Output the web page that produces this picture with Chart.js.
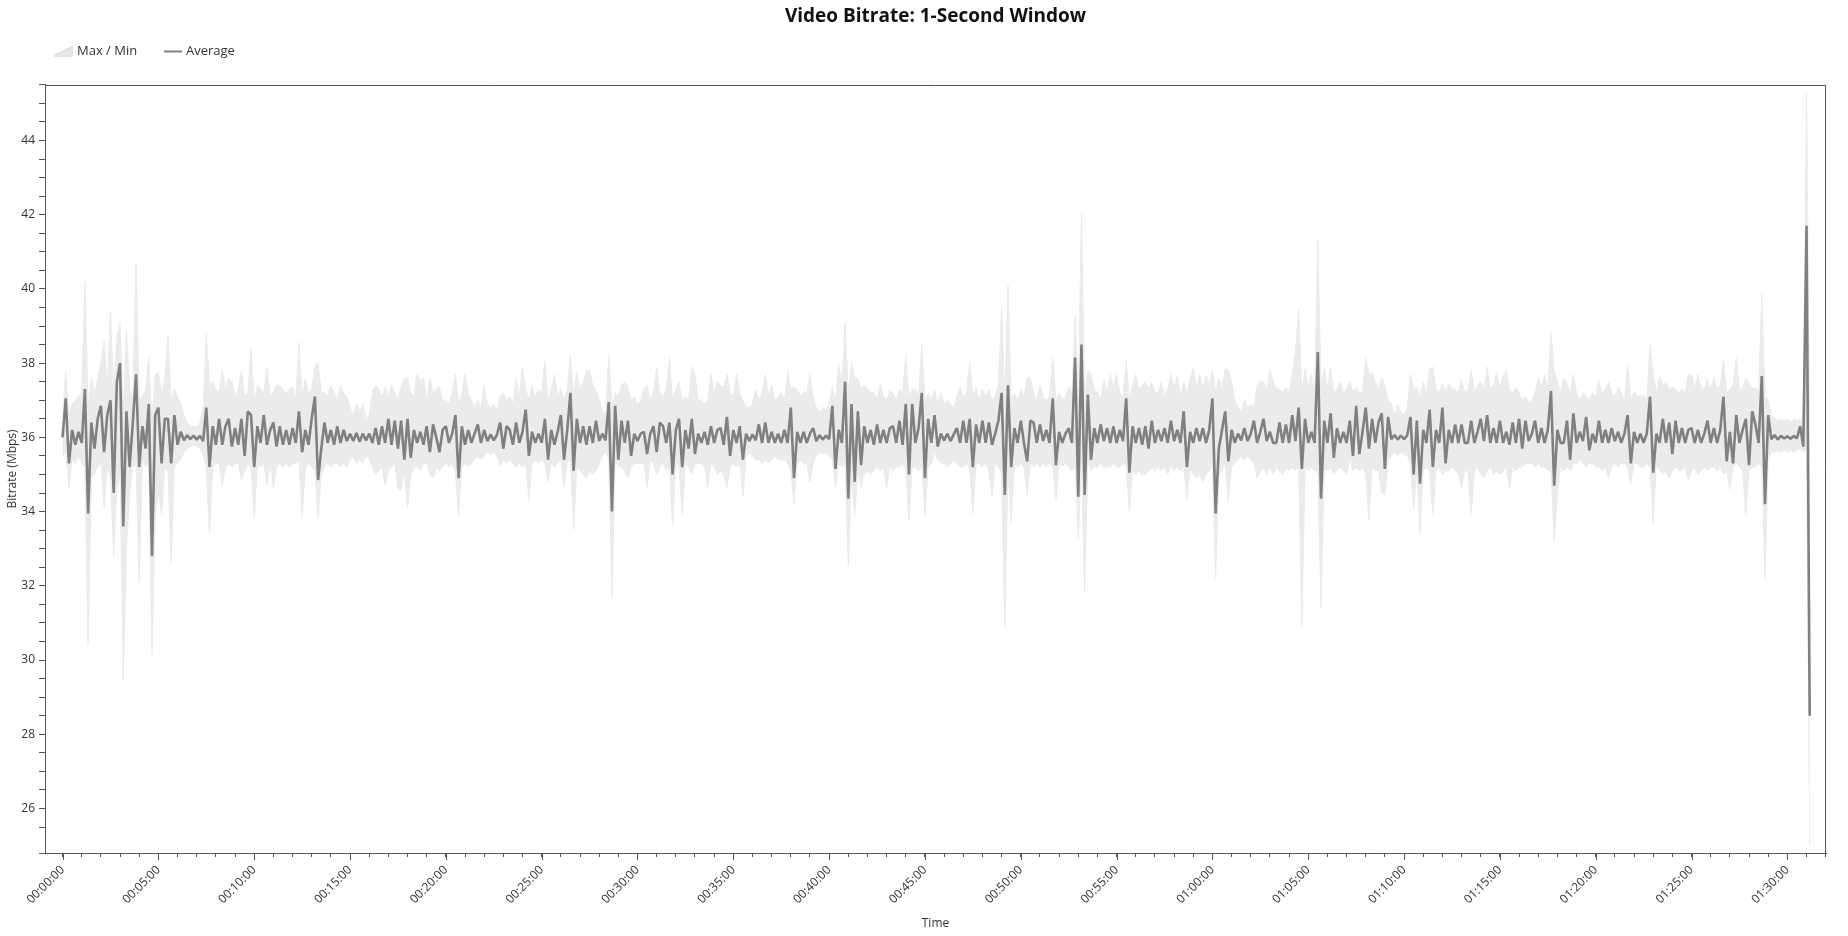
<!DOCTYPE html>
<html>
<head>
<meta charset="utf-8">
<script src="https://cdn.jsdelivr.net/npm/chart.js@4.4.1/dist/chart.umd.min.js"></script>
<style>
html,body{margin:0;padding:0;background:#fff;}
#wrap{width:1848px;height:936px;position:relative;}
</style>
</head>
<body>
<div id="wrap"><canvas id="c" width="1848" height="936"></canvas></div>
<script>
// ---- data (one sample every 10 seconds) ----
const STEP_SECONDS = 10;

const avgMbps = [
36.0,37.05,35.3,36.2,35.8,36.15,35.85,37.3,33.95,36.4,
35.7,36.5,36.85,35.6,36.6,37.0,34.5,37.5,38.0,33.6,
36.7,35.2,36.4,37.7,35.2,36.3,35.7,36.9,32.8,36.6,
36.8,35.3,36.5,36.5,35.3,36.6,35.8,36.15,35.92,36.06,
35.95,36.05,35.94,36.04,35.9,36.8,35.2,36.3,35.8,36.5,
35.8,36.3,36.5,35.75,36.25,35.8,36.5,35.5,36.7,36.6,
35.2,36.3,35.85,36.6,35.8,36.2,36.4,35.75,36.3,35.8,
36.2,35.8,36.25,35.85,36.7,35.6,36.2,35.8,36.5,37.1,
34.85,35.7,36.4,35.85,36.2,35.8,36.3,35.85,36.2,35.9,
36.1,35.9,36.12,35.88,36.1,35.92,36.1,35.85,36.25,35.8,
36.3,35.85,36.5,35.8,36.45,35.7,36.45,35.4,36.5,35.45,
36.2,35.85,36.15,35.8,36.3,35.6,36.35,36.0,35.6,36.2,
36.3,35.85,36.1,36.6,34.9,36.3,35.8,36.2,35.85,36.1,
36.35,35.85,36.2,35.9,36.08,35.92,36.07,36.4,35.7,36.3,
36.2,35.8,36.4,35.85,36.15,36.75,35.5,36.15,35.85,36.1,
35.85,36.5,35.4,36.2,35.8,36.15,36.6,35.4,36.2,37.2,
35.1,36.5,35.85,36.3,35.8,36.3,35.85,36.45,35.9,36.1,
35.92,36.95,34.0,36.85,35.4,36.45,35.85,36.45,35.5,36.1,
35.9,36.1,36.15,35.55,36.1,36.3,35.6,36.4,36.3,35.85,
36.4,35.0,36.2,36.5,35.2,36.2,35.7,36.5,35.55,36.1,
35.85,36.15,35.8,36.3,35.85,36.2,36.25,35.8,36.55,35.5,
36.2,35.85,36.3,35.4,36.1,35.9,36.08,35.92,36.35,35.85,
36.4,35.85,36.15,35.85,36.1,35.85,36.2,35.85,36.8,34.9,
36.15,35.85,36.15,35.85,36.1,36.25,35.9,36.06,35.94,36.05,
35.95,36.85,35.15,36.2,35.85,37.5,34.35,36.9,34.8,36.7,
35.25,36.3,35.85,36.2,35.8,36.35,35.85,36.2,35.85,36.25,
36.3,35.85,36.45,35.8,36.9,35.0,36.9,35.85,36.25,37.2,
34.9,36.5,35.85,36.6,35.75,36.1,35.92,36.1,35.9,36.08,
36.25,35.85,36.45,35.85,36.5,35.2,36.35,35.85,36.45,35.85,
36.4,35.8,36.1,36.45,37.2,34.45,37.4,35.2,36.25,35.85,
36.45,35.85,35.35,36.45,36.4,35.85,36.35,35.9,36.2,35.85,
37.05,35.25,36.15,35.85,36.1,36.25,35.85,38.15,34.4,38.5,
34.45,37.15,35.4,36.25,35.85,36.35,35.9,36.25,35.85,36.3,
35.85,36.2,35.9,37.05,35.05,36.3,35.85,36.25,35.8,36.3,
35.7,36.45,35.85,36.2,35.9,36.25,35.85,36.45,35.9,36.2,
35.85,36.7,35.2,36.15,35.85,36.25,35.9,36.25,35.85,36.2,
37.05,33.95,35.7,36.2,36.7,35.35,36.2,35.85,36.1,35.92,
36.25,35.9,36.1,36.45,35.85,36.15,36.5,35.9,36.15,35.85,
35.85,36.4,35.85,36.35,35.85,36.6,35.9,36.8,35.15,36.5,
35.85,36.15,35.85,38.3,34.35,36.45,35.85,36.65,35.45,36.25,
35.85,36.15,35.85,36.45,35.5,36.85,35.55,36.15,36.8,35.7,
36.5,35.85,36.4,36.65,35.15,36.55,35.95,36.06,35.94,36.05,
35.95,36.06,36.55,35.0,36.45,34.75,36.2,35.85,36.75,35.2,
36.2,35.85,36.8,35.3,36.2,35.85,36.35,35.85,36.35,35.85,
35.85,36.45,35.85,36.15,36.5,35.9,36.6,35.85,36.25,35.85,
36.45,35.85,36.15,35.8,36.4,35.85,36.5,35.7,36.45,35.9,
36.1,36.45,35.85,36.25,35.85,36.2,37.25,34.7,36.2,35.85,
35.85,36.45,35.4,36.65,35.85,36.15,35.9,36.55,35.65,36.1,
35.85,36.45,35.85,36.2,35.85,36.25,35.9,36.15,35.85,36.1,
36.6,35.3,36.15,35.85,36.1,35.85,36.1,37.1,35.05,36.1,
35.85,36.5,35.85,36.4,35.55,36.45,35.85,36.25,35.85,36.2,
36.25,35.85,36.2,35.85,36.1,36.45,35.85,36.25,35.85,36.2,
37.1,35.35,36.15,35.3,36.6,35.85,36.2,36.5,35.25,36.7,
36.35,35.85,37.65,34.2,36.6,35.95,36.06,35.94,36.04,35.97,
36.03,35.96,36.04,35.97,36.3,35.75,41.7,28.5
];

const maxMbps = [
36.6,37.75,36.6,36.9,37.0,37.1,37.2,40.2,36.8,37.6,
37.2,37.6,38.0,38.6,37.4,39.4,37.2,38.7,39.1,36.6,
38.9,37.3,37.1,40.7,37.0,37.1,37.3,38.15,36.5,37.7,
37.75,37.2,37.6,38.75,37.0,37.3,37.1,36.9,36.6,36.4,
36.3,36.3,36.3,36.4,36.8,38.8,37.4,37.5,37.3,37.2,
37.8,37.3,37.6,37.5,37.1,37.3,37.8,37.1,37.2,38.4,
37.0,37.4,37.3,37.2,37.9,37.1,37.2,37.4,37.4,37.3,
37.2,37.3,37.35,37.0,38.55,37.1,37.6,37.2,37.3,37.9,
38.0,37.2,37.2,37.1,37.4,37.2,37.0,37.4,37.2,37.1,
36.8,36.6,36.9,36.7,36.9,36.5,36.6,37.2,37.4,37.3,
37.1,37.35,37.1,37.4,37.2,37.0,37.35,37.6,37.6,37.2,
37.1,37.7,37.5,37.6,37.0,37.6,37.2,37.3,37.35,37.0,
37.0,36.9,37.2,37.7,36.9,37.2,37.7,37.2,37.0,36.8,
37.0,36.8,37.4,36.9,36.8,36.9,36.7,37.1,37.2,37.0,
37.1,36.9,37.6,37.1,37.9,37.3,37.0,37.4,37.1,37.3,
37.2,38.05,37.0,37.3,37.7,37.1,37.3,37.0,37.3,38.2,
37.1,37.75,37.3,37.5,37.8,37.8,37.4,37.3,37.0,36.7,
36.6,38.2,36.9,37.2,37.1,37.4,37.5,37.35,37.0,37.1,
36.9,37.0,37.3,37.4,37.0,37.2,37.9,37.2,37.1,37.3,
38.15,37.0,37.3,37.5,37.0,37.1,37.0,37.9,37.7,37.0,
37.0,36.9,37.0,37.7,37.2,37.5,37.4,37.35,37.7,37.2,
37.1,37.7,37.2,37.0,36.8,36.8,36.9,37.3,37.0,37.2,
37.7,37.1,37.4,37.0,37.1,37.2,37.0,37.75,37.3,37.35,
37.3,37.1,37.2,37.2,37.7,37.1,36.8,36.7,36.8,36.7,
36.9,37.35,37.0,38.0,37.4,39.1,37.2,38.0,37.6,37.6,
37.3,37.4,37.3,37.2,37.2,37.0,37.45,37.1,37.0,37.25,
37.2,37.0,37.3,37.2,38.2,37.1,37.3,37.3,37.1,38.5,
37.0,37.2,37.0,37.3,36.9,37.2,36.9,37.0,36.9,36.8,
37.1,37.35,37.1,37.2,38.0,37.1,37.35,37.0,37.3,37.1,
37.3,37.0,37.1,37.45,39.45,37.0,40.1,37.0,37.2,37.0,
37.3,37.1,37.6,37.6,37.2,37.0,37.4,37.1,37.0,37.1,
38.15,37.0,37.2,37.0,37.1,37.35,37.2,39.3,37.1,42.05,
37.2,37.8,37.7,37.3,37.2,37.0,37.55,37.2,37.7,37.35,
37.7,37.2,37.1,38.1,37.0,37.4,37.7,37.3,37.4,37.5,
37.3,37.5,37.2,37.2,37.5,37.1,37.3,37.7,37.35,37.65,
37.1,37.5,37.2,37.6,37.85,37.3,37.7,37.3,37.65,37.4,
37.8,37.2,37.6,37.3,37.85,37.8,37.5,37.0,36.8,36.7,
37.0,36.8,36.9,36.8,37.4,37.5,37.5,37.3,37.8,37.5,
37.3,37.3,37.2,37.35,37.2,37.7,38.3,39.45,37.2,37.85,
37.3,37.7,37.2,41.35,37.3,37.85,37.3,37.9,37.2,37.3,
37.5,37.2,37.3,37.5,37.2,37.35,37.2,37.2,38.15,37.7,
37.75,37.5,37.3,37.6,37.4,37.0,36.9,36.6,36.9,36.7,
36.6,36.8,37.7,37.3,37.35,37.1,37.5,37.2,37.85,37.9,
37.3,37.2,37.45,37.2,37.45,37.3,37.3,37.2,37.55,37.2,
37.3,37.8,37.2,37.4,37.5,37.3,37.9,37.3,37.4,37.75,
37.3,37.65,37.8,37.3,37.2,37.35,37.2,37.0,37.1,36.95,
37.0,37.2,37.6,37.35,37.7,37.3,38.85,37.8,37.5,37.2,
37.6,37.45,37.2,37.7,37.2,37.0,37.2,37.1,37.0,37.2,
37.1,37.55,37.2,37.3,37.5,37.2,37.1,37.35,37.2,37.0,
37.95,37.0,37.25,37.1,37.1,37.15,37.0,38.5,37.7,37.2,
37.65,37.4,37.5,37.3,37.35,37.3,37.2,37.3,37.2,37.7,
37.7,37.3,37.7,37.3,37.3,37.55,37.3,37.6,37.3,37.4,
38.1,37.2,37.3,37.4,38.15,37.3,37.3,37.6,37.45,37.3,
37.35,37.2,39.85,37.1,37.0,36.6,36.5,36.45,36.5,36.45,
36.5,36.4,36.5,36.45,36.5,36.4,45.3,36.3
];

const minMbps = [
35.5,35.6,34.65,35.4,35.3,35.5,35.3,35.2,30.4,34.9,
35.0,35.2,35.3,34.1,35.2,34.9,32.8,34.6,35.0,29.45,
33.0,34.5,35.2,35.3,32.1,35.4,35.2,35.3,30.15,33.9,
34.5,33.9,35.2,35.1,32.6,35.2,35.3,35.4,35.6,35.7,
35.75,35.8,35.75,35.7,35.5,35.2,33.4,35.2,35.3,35.3,
34.7,35.2,35.3,35.2,35.3,35.3,34.85,35.1,35.3,35.2,
33.85,35.3,35.2,35.3,34.7,35.3,34.65,35.2,35.3,35.2,
35.3,35.2,35.3,35.3,35.4,33.9,35.2,35.3,35.2,35.1,
33.8,35.0,35.2,35.3,35.2,35.3,35.3,35.2,35.3,35.2,
35.4,35.5,35.3,35.4,35.3,35.5,35.4,35.2,35.0,35.1,
35.2,34.7,35.1,35.2,35.3,34.6,34.6,35.1,34.1,35.0,
35.2,35.2,35.1,35.3,35.3,35.0,34.9,35.2,35.1,35.2,
35.3,35.2,35.3,35.0,33.9,35.2,35.3,35.2,35.3,35.4,
35.5,35.4,35.5,35.6,35.55,35.6,35.5,35.2,35.4,35.3,
35.4,35.3,35.2,35.3,35.2,35.3,34.3,35.3,35.4,35.3,
35.4,35.3,34.8,35.3,35.2,35.3,35.4,34.65,35.3,35.4,
33.5,35.2,35.1,35.0,34.9,35.1,35.0,35.1,35.3,35.5,
35.6,35.4,31.7,35.4,35.2,35.2,35.1,34.9,35.2,35.3,
35.3,35.3,35.3,34.65,35.4,35.3,35.0,35.2,35.3,35.1,
35.2,33.6,35.3,35.2,33.9,35.3,35.2,35.0,35.3,35.3,
35.3,35.2,34.65,35.3,35.2,35.0,35.1,35.0,34.65,35.2,
35.3,35.2,35.3,34.4,35.5,35.6,35.5,35.4,35.4,35.3,
35.4,35.3,35.4,35.5,35.4,35.4,35.4,35.3,35.1,34.2,
35.3,35.4,35.3,35.3,34.8,35.3,35.5,35.6,35.55,35.6,
35.5,35.4,34.65,35.3,35.2,35.3,32.55,34.95,33.9,35.1,
34.65,35.0,35.1,35.0,35.1,35.2,35.1,35.2,34.65,35.2,
35.1,35.2,35.2,35.3,35.1,33.75,35.2,35.2,35.1,35.2,
33.9,35.2,35.3,35.6,35.4,35.3,35.3,35.2,35.3,35.4,
35.3,35.2,35.2,35.3,35.15,33.95,35.3,35.3,35.2,35.3,
35.1,34.4,35.3,35.2,35.0,30.9,35.2,33.7,35.3,35.2,
35.3,35.2,34.45,35.3,35.2,35.3,35.2,35.3,35.2,35.3,
35.2,34.3,35.3,35.2,35.3,35.2,35.1,35.2,33.3,35.3,
31.85,35.4,35.1,35.2,35.2,35.3,35.2,35.2,35.2,35.3,
35.2,35.2,35.3,35.2,33.95,35.1,35.0,35.1,35.0,35.0,
35.1,35.2,35.1,35.2,35.1,35.2,35.0,35.2,35.1,35.2,
35.1,35.2,34.35,35.1,35.0,34.9,35.0,34.8,35.0,35.1,
35.2,32.2,35.0,35.1,35.3,34.3,35.2,35.3,35.4,35.5,
35.4,35.5,35.4,35.3,34.9,35.1,35.2,35.0,35.2,35.0,
35.2,35.1,35.0,35.2,35.1,35.2,35.1,35.2,30.9,35.2,
35.1,35.2,35.1,35.1,31.4,35.1,35.1,35.2,35.0,35.1,
35.2,35.1,35.0,35.45,35.1,35.2,35.1,35.2,35.0,33.75,
35.2,35.1,35.1,34.5,34.45,35.4,35.5,35.6,35.5,35.6,
35.55,35.5,35.3,34.05,35.2,33.4,35.1,35.2,35.1,33.9,
35.1,35.2,35.0,35.1,35.1,35.2,35.1,35.0,34.65,35.1,
35.1,33.9,35.1,35.2,35.0,34.9,35.1,35.2,35.0,35.1,
35.0,35.1,35.2,34.6,35.2,35.1,35.2,35.2,35.3,35.3,
35.3,35.2,35.3,35.2,35.2,35.1,35.1,33.2,34.45,35.2,
35.1,35.2,35.1,35.3,35.3,35.4,35.3,35.2,35.3,35.3,
35.2,35.2,35.1,35.2,34.9,35.2,35.3,35.2,35.3,35.3,
35.2,34.75,35.3,35.3,35.2,35.2,35.3,35.2,33.7,35.3,
35.1,35.0,35.1,34.9,35.1,35.2,35.1,35.1,35.2,34.85,
35.1,35.2,35.0,35.1,35.2,35.1,35.2,35.2,35.1,35.2,
35.0,35.1,34.6,35.2,35.3,35.2,35.1,33.9,35.1,35.2,
35.2,35.3,35.2,32.2,35.4,35.6,35.6,35.65,35.6,35.65,
35.6,35.65,35.6,35.65,35.7,35.6,35.7,25.0
];

const seriesNames = ['Max / Min', 'Average'];
const chartTitle = 'Video Bitrate: 1-Second Window';
const xAxisTitle = 'Time';
const yAxisTitle = 'Bitrate (Mbps)';
const xLabelSeconds = [0,300,600,900,1200,1500,1800,2100,2400,2700,3000,3300,3600,3900,4200,4500,4800,5100,5400];
const xLabelTexts = ['00:00:00','00:05:00','00:10:00','00:15:00','00:20:00','00:25:00','00:30:00','00:35:00','00:40:00','00:45:00','00:50:00','00:55:00','01:00:00','01:05:00','01:10:00','01:15:00','01:20:00','01:25:00','01:30:00'];
const yLabelValues = [26,28,30,32,34,36,38,40,42,44];

// index axis: elapsed seconds of each sample
const times = avgMbps.map((_, i) => i * STEP_SECONDS);

const FONT = 'Open Sans';
const BAND = '#ebebeb';
const LINE = '#808080';
const AXIS = '#555555';

const decorPlugin = {
  id: 'decor',
  afterDraw(chart) {
    const {ctx, chartArea: a, scales} = chart;
    const x = scales.x;
    ctx.save();
    ctx.strokeStyle = AXIS;
    ctx.lineWidth = 1;
    ctx.beginPath();
    ctx.moveTo(a.left, Math.round(a.top) + 0.5);
    ctx.lineTo(a.right, Math.round(a.top) + 0.5);
    ctx.moveTo(Math.round(a.right) - 0.5, a.top);
    ctx.lineTo(Math.round(a.right) - 0.5, a.bottom);
    for (const s of xLabelSeconds) {
      const px = Math.round(x.getPixelForValue(s)) + 0.5;
      ctx.moveTo(px, a.bottom);
      ctx.lineTo(px, a.bottom + 7);
    }
    ctx.stroke();

    // legend
    const ly = 51.5;
    ctx.fillStyle = '#e6e6e6';
    ctx.beginPath();
    ctx.moveTo(54, 57); ctx.lineTo(54, 55); ctx.lineTo(73, 46); ctx.lineTo(73, 57);
    ctx.closePath(); ctx.fill();
    ctx.strokeStyle = '#dcdcdc';
    ctx.beginPath(); ctx.moveTo(54, 55); ctx.lineTo(73, 46); ctx.stroke();
    ctx.strokeStyle = LINE; ctx.lineWidth = 2;
    ctx.beginPath(); ctx.moveTo(164, ly); ctx.lineTo(182, ly); ctx.stroke();
    ctx.fillStyle = '#333';
    ctx.font = '13px "' + FONT + '"';
    ctx.textBaseline = 'middle';
    ctx.textAlign = 'left';
    ctx.fillText(seriesNames[0], 77, ly);
    ctx.fillText(seriesNames[1], 186, ly);
    ctx.restore();
  }
};

new Chart(document.getElementById('c'), {
  type: 'line',
  data: {
    labels: times,
    datasets: [
      { label: seriesNames[1], data: avgMbps, borderColor: LINE, borderWidth: 2.6, pointRadius: 0,
        fill: false, order: 0, borderJoinStyle: 'bevel', tension: 0 },
      { label: 'Max', data: maxMbps, borderColor: BAND, borderWidth: 1, backgroundColor: BAND,
        pointRadius: 0, fill: '+1', order: 1, tension: 0 },
      { label: 'Min', data: minMbps, borderColor: BAND, borderWidth: 1, pointRadius: 0,
        fill: false, order: 2, tension: 0 }
    ]
  },
  options: {
    responsive: false,
    animation: false,
    devicePixelRatio: 1,
    layout: { padding: { left: 0, right: 22, top: 0, bottom: 0 } },
    plugins: {
      legend: { display: false },
      tooltip: { enabled: false },
      title: {
        display: true, text: chartTitle, fullSize: false, color: '#111',
        font: { family: FONT, size: 19, weight: 'bold' },
        padding: { top: 5, bottom: 57 }
      }
    },
    scales: {
      x: {
        type: 'linear', min: -55, max: 5521,
        border: { display: true, color: AXIS, width: 1 },
        grid: { display: true, drawOnChartArea: false, drawTicks: true, tickLength: 4, tickColor: AXIS },
        ticks: {
          stepSize: 60, autoSkip: false, maxTicksLimit: 1000, includeBounds: false,
          maxRotation: 45, minRotation: 45, padding: 6, color: '#333',
          font: { family: FONT, size: 12 },
          callback: (v) => { const i = xLabelSeconds.indexOf(v); return i >= 0 ? xLabelTexts[i] : ''; }
        },
        title: { display: true, text: xAxisTitle, color: '#333', font: { family: FONT, size: 12 }, padding: { top: 0, bottom: 5 } },
        afterFit: (s) => { s.height = 83; }
      },
      y: {
        min: 24.8, max: 45.5,
        border: { display: true, color: AXIS, width: 1 },
        grid: { display: true, drawOnChartArea: false, drawTicks: true, tickLength: 6, tickColor: AXIS },
        ticks: {
          stepSize: 0.5, autoSkip: false, maxTicksLimit: 1000, padding: 4, color: '#333',
          font: { family: FONT, size: 12 },
          callback: (v) => yLabelValues.includes(v) ? String(v) : ''
        },
        title: { display: true, text: yAxisTitle, color: '#333', font: { family: FONT, size: 12 }, padding: { top: 5, bottom: 0 } },
        afterFit: (s) => { s.width = 45; }
      }
    }
  },
  plugins: [decorPlugin]
});
</script>
</body>
</html>
